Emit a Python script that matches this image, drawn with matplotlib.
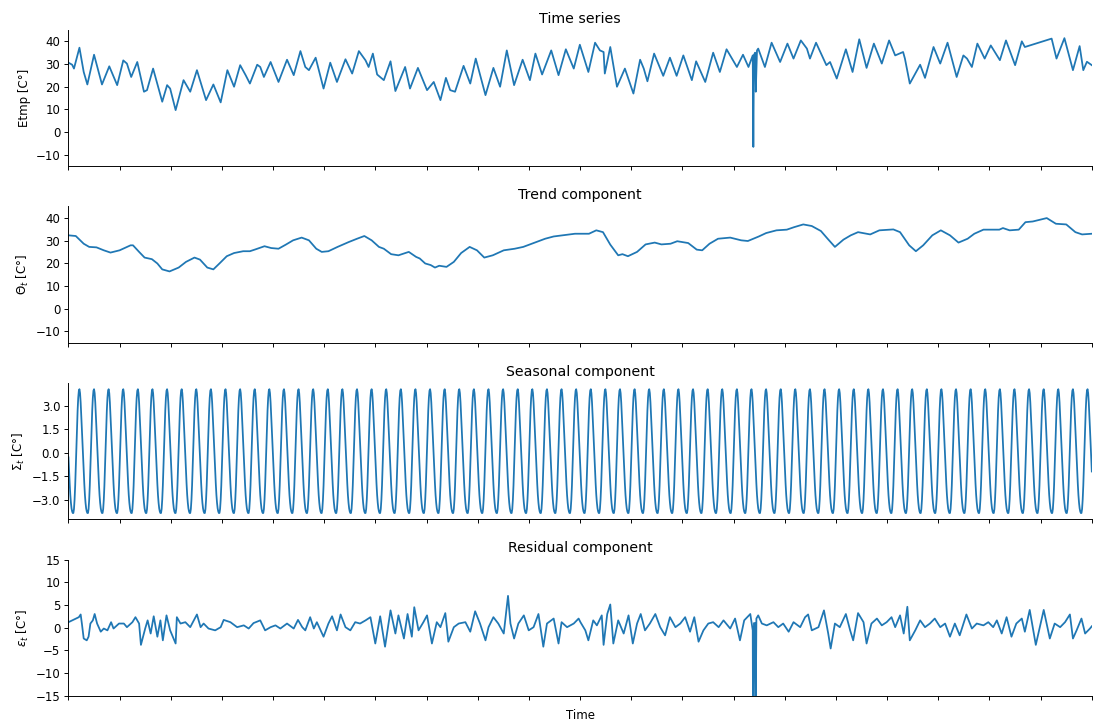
import numpy as np
import matplotlib
matplotlib.use("Agg")
import matplotlib.pyplot as plt
from matplotlib.ticker import MultipleLocator

# hourly index, about 70 days
n_hours = 1682

# observed temperature, read as daily highs / lows (hour, value)
etmp_hours = [0, 6, 9, 18, 25, 31, 42, 55, 67, 80, 90, 96, 103, 113, 124, 129, 139, 154, 162, 167,
              176, 189, 200, 211, 226, 238, 250, 261, 272, 282, 291, 298, 310, 315, 321, 332, 345, 359,
              370, 381, 389, 395, 406, 419, 430, 441, 455, 466, 477, 488, 493, 500, 507, 518, 529, 537,
              553, 561, 574, 589, 600, 611, 620, 627, 635, 649, 660, 669, 685, 698, 709, 720, 732, 746,
              758, 767, 778, 793, 805, 817, 830, 840, 854, 865, 873, 879, 881, 890, 901, 914, 928, 939,
              945, 951, 962, 977, 988, 999, 1010, 1024, 1031, 1046, 1059, 1070, 1081, 1098, 1108, 1117,
              1124, 1125, 1126, 1128, 1129, 1131, 1133, 1144, 1155, 1169, 1181, 1191, 1203, 1213, 1218,
              1228, 1245, 1251, 1262, 1277, 1288, 1299, 1311, 1323, 1336, 1348, 1358, 1371, 1374, 1382,
              1399, 1407, 1421, 1432, 1444, 1459, 1470, 1476, 1484, 1493, 1505, 1515, 1530, 1540, 1555,
              1566, 1571, 1615, 1623, 1636, 1650, 1661, 1667, 1673, 1681]
etmp_values = [30.6, 29.7, 28.0, 37.2, 26.5, 21.0, 34.1, 21.0, 29.0, 20.7, 31.6, 30.2, 24.3, 30.9, 17.8,
               18.5, 28.0, 13.4, 20.7, 19.2, 9.7, 22.9, 17.8, 27.3, 14.1, 21.0, 13.1, 27.3, 20.0, 29.5,
               25.1, 21.4, 29.7, 28.7, 24.3, 30.9, 22.1, 31.9, 25.1, 35.7, 28.7, 27.3, 32.8, 19.2, 30.6,
               22.1, 32.1, 25.8, 35.7, 31.6, 28.7, 34.6, 25.4, 22.9, 31.2, 18.1, 28.7, 19.2, 28.3, 18.5,
               22.1, 14.1, 23.9, 18.5, 17.8, 29.2, 21.4, 32.4, 16.3, 28.3, 20.0, 36.0, 20.7, 31.9, 22.9,
               34.6, 25.4, 36.0, 25.1, 36.5, 28.0, 38.5, 26.5, 39.4, 36.0, 35.3, 25.8, 37.5, 20.0, 28.0,
               17.0, 31.9, 28.0, 22.4, 34.6, 24.8, 32.8, 24.8, 33.8, 22.9, 31.2, 22.1, 35.0, 26.5, 36.5,
               28.7, 34.1, 28.7, 33.8, -6.5, 34.0, 35.0, 17.8, 36.0, 36.8, 28.7, 39.4, 30.9, 39.0, 32.4,
               40.4, 36.8, 32.4, 39.4, 29.5, 30.9, 23.6, 36.5, 26.5, 40.9, 28.3, 39.0, 30.2, 40.4, 33.8,
               35.3, 32.4, 21.4, 29.7, 23.9, 37.5, 30.2, 39.4, 24.3, 33.8, 32.4, 28.7, 39.0, 32.4, 38.2,
               31.7, 40.4, 29.5, 40.0, 37.5, 41.2, 32.4, 41.4, 27.3, 37.9, 27.3, 31.0, 29.5]

# trend component
trend_hours = [0, 12, 25, 34, 46, 58, 69, 84, 102, 106, 116, 125, 137, 146, 154, 166, 181, 193, 207,
               216, 228, 238, 248, 260, 272, 287, 298, 307, 322, 333, 345, 357, 369, 383, 395, 407, 416,
               427, 442, 460, 474, 486, 498, 510, 518, 530, 542, 559, 571, 577, 586, 595, 602, 609, 621,
               633, 645, 659, 671, 683, 697, 715, 733, 747, 768, 783, 797, 820, 832, 855, 867, 878, 890,
               903, 910, 919, 934, 948, 963, 974, 989, 1000, 1018, 1032, 1041, 1053, 1067, 1087, 1105,
               1116, 1134, 1146, 1163, 1180, 1192, 1207, 1221, 1236, 1247, 1259, 1273, 1285, 1297, 1317,
               1332, 1355, 1366, 1381, 1392, 1404, 1419, 1433, 1448, 1462, 1477, 1488, 1503, 1529, 1535,
               1546, 1561, 1572, 1584, 1607, 1622, 1639, 1654, 1665, 1681]
trend_values = [32.3, 32.0, 28.6, 27.2, 27.0, 25.7, 24.7, 25.7, 27.9, 27.9, 25.0, 22.5, 21.8, 19.9,
                17.3, 16.4, 18.1, 20.6, 22.5, 21.6, 18.1, 17.3, 19.9, 23.1, 24.5, 25.3, 25.3, 26.1,
                27.5, 26.7, 26.4, 28.2, 30.1, 31.3, 30.1, 26.4, 25.0, 25.3, 27.2, 29.3, 30.8, 32.0,
                30.1, 27.2, 26.4, 24.0, 23.5, 25.0, 22.8, 22.1, 19.9, 19.2, 18.1, 18.9, 18.4, 20.6,
                24.5, 27.2, 25.7, 22.5, 23.5, 25.7, 26.4, 27.2, 29.3, 30.8, 31.8, 32.6, 33.0, 33.0,
                34.5, 33.7, 28.2, 23.5, 24.0, 23.1, 25.0, 28.3, 29.1, 28.3, 28.6, 29.7, 28.9, 26.0,
                25.7, 28.6, 30.8, 31.3, 30.1, 29.8, 31.8, 33.3, 34.5, 34.8, 35.9, 37.1, 36.4, 34.2,
                30.8, 27.2, 30.4, 32.3, 33.7, 32.7, 34.5, 34.9, 33.7, 27.9, 25.3, 27.9, 32.3, 34.5,
                32.3, 29.1, 30.8, 33.0, 34.8, 34.8, 35.5, 34.5, 34.8, 38.1, 38.4, 39.9, 37.4, 37.1,
                33.7, 32.7, 33.0]

# seasonal component: one daily cycle (24 hourly values), repeated each day
seasonal_day = [-0.3, -1.2, -2.0, -2.7, -3.2, -3.55, -3.75, -3.85, -3.85, -3.6, -3.0, -2.1,
                -1.0, 0.3, 1.6, 2.7, 3.5, 3.95, 4.05, 3.8, 3.2, 2.4, 1.5, 0.6]

# residual component
resid_hours = [0, 17, 20, 22, 25, 30, 33, 36, 40, 43,
               47, 53, 58, 64, 70, 74, 83, 91, 96, 105,
               110, 116, 119, 126, 130, 135, 140, 146, 151, 155,
               161, 167, 176, 178, 184, 192, 200, 206, 211, 217,
               222, 230, 241, 250, 255, 266, 277, 288, 296, 304,
               315, 323, 332, 340, 348, 359, 370, 377, 384, 389,
               397, 403, 408, 419, 427, 433, 441, 447, 455, 463,
               471, 479, 488, 496, 504, 512, 520, 529, 537, 542,
               551, 557, 564, 568, 575, 583, 589, 597, 605, 611,
               619, 624, 633, 641, 652, 660, 668, 676, 685, 690,
               698, 706, 715, 722, 726, 732, 739, 748, 756, 764,
               772, 780, 786, 797, 805, 810, 819, 830, 838,
               841, 849, 854, 862, 868, 876, 879, 885, 890, 895,
               903, 912, 920, 927, 934, 940, 947, 955, 964, 972,
               980, 988, 997, 1005, 1013, 1021, 1028, 1035, 1043, 1051,
               1059, 1068, 1076, 1087, 1095, 1103, 1110, 1120, 1124, 1125,
               1126, 1128, 1129, 1130, 1133, 1139, 1147, 1158, 1166, 1174,
               1183, 1191, 1202, 1210, 1215, 1221, 1232, 1241, 1248, 1252,
               1259, 1267, 1277, 1284, 1289, 1297, 1306, 1311, 1319, 1328,
               1336, 1344, 1352, 1358, 1366, 1372, 1378, 1382, 1391, 1399,
               1407, 1415, 1423, 1432, 1440, 1448, 1456, 1464, 1475, 1484,
               1492, 1503, 1511, 1519, 1525, 1533, 1541, 1549, 1557, 1566,
               1571, 1579, 1589, 1602, 1612, 1620, 1629, 1637, 1645, 1650,
               1656, 1664, 1670, 1678, 1681]
resid_values = [1.2, 2.3, 2.9, 0.9, -2.4, -2.8, -2.0, 0.9, 1.6, 3.0,
                0.9, -0.9, -0.2, -0.6, 1.2, -0.2, 0.9, 0.9, 0.1, 1.2,
                2.3, 0.9, -3.8, -0.2, 1.6, -1.3, 2.5, -2.0, 1.6, -2.8,
                2.7, -0.6, -3.5, 2.3, 0.9, 1.2, 0.1, 1.6, 2.9, 0.1,
                0.9, -0.2, -0.6, 0.1, 1.7, 1.2, 0.1, 0.5, -0.2, 1.0,
                1.6, -0.6, 0.1, 0.5, -0.2, 0.9, -0.2, 1.7, 0.1, -0.6,
                2.3, -0.2, 1.2, -2.0, 0.9, 2.5, -0.6, 2.9, 0.1, -0.6,
                1.2, 0.9, 1.6, 2.3, -3.5, 2.5, -4.2, 3.8, -1.3, 2.7,
                -2.4, 3.0, -2.0, 4.5, -0.6, 1.2, 2.7, -3.5, 1.2, 0.1,
                3.2, -3.1, 0.1, 0.9, 1.2, -0.9, 3.6, 0.9, -2.8, 0.1,
                2.3, 0.9, -1.3, 7.0, 0.9, -2.4, 0.9, 2.7, -0.6, 0.1,
                3.0, -4.2, 0.9, 2.0, -3.5, 1.2, 0.1, 0.9, 2.0,
                1.2, -0.6, -2.8, 1.6, 0.5, 2.7, -3.8, 3.0, 5.1, -3.5,
                1.6, -1.3, 2.7, -3.5, 0.9, 3.0, -0.6, 0.9, 3.0, 0.1,
                -1.7, 2.3, 0.1, 0.9, 2.3, -0.9, 2.3, -3.1, -0.6, 0.9,
                1.2, 0.1, 1.6, -0.2, 2.0, -2.8, 1.6, 3.0, -0.6, -41.0,
                1.0, 1.0, -18.0, 2.0, 2.7, 0.9, 0.5, 1.2, 0.1, 0.9,
                -0.9, 1.2, 0.1, 2.3, 2.9, -0.6, 0.1, 3.8, -1.3, -4.6,
                0.9, 0.1, 3.0, -0.6, -2.8, 3.2, 1.2, -3.5, 0.9, 2.0,
                0.5, 1.2, 2.3, 0.1, 2.7, -1.3, 4.6, -2.8, -0.6, 1.6,
                0.1, 0.9, 2.0, 0.1, 0.9, -2.0, 0.9, -1.7, 2.9, -0.2,
                0.9, 0.5, 1.2, 0.1, 1.6, -1.3, 2.3, -2.0, 0.9, 2.0,
                -0.9, 3.9, -3.8, 3.9, -2.4, 0.9, 0.1, 1.2, 2.9, -2.4,
                -0.6, 2.0, -1.3, -0.2, 0.3]

titles = ["Time series", "Trend component", "Seasonal component", "Residual component"]
ylabels = ["Etmp [C°]", r"$\Theta_t$ [C°]", r"$\Sigma_t$ [C°]", r"$\varepsilon_t$ [C°]"]

season_hours = np.arange(n_hours)
season_values = np.resize(seasonal_day, n_hours)

fig, axes = plt.subplots(4, 1, figsize=(1094 / 85, 726 / 85), dpi=85)
fig.subplots_adjust(left=0.0626, right=0.998, bottom=0.0417, top=0.9587, hspace=0.296)

series = [(etmp_hours, etmp_values), (trend_hours, trend_values),
          (season_hours, season_values), (resid_hours, resid_values)]

for ax, (x, y), title, ylab in zip(axes, series, titles, ylabels):
    ax.plot(x, y, color="#1f77b4", lw=1.5)
    ax.set_title(title)
    ax.set_ylabel(ylab)
    ax.set_xlim(0, n_hours - 1)
    ax.set_xticks(np.linspace(0, n_hours - 1, 21))
    ax.set_xticklabels([])
    ax.spines["top"].set_visible(False)
    ax.spines["right"].set_visible(False)

for ax in axes[:2]:
    ax.set_ylim(-15, 45)
    ax.yaxis.set_major_locator(MultipleLocator(10))
axes[2].yaxis.set_major_locator(MultipleLocator(1.5))
axes[3].set_ylim(-15, 15)
axes[3].yaxis.set_major_locator(MultipleLocator(5))
axes[3].set_xlabel("Time")

fig.savefig("out.png", dpi=85)
